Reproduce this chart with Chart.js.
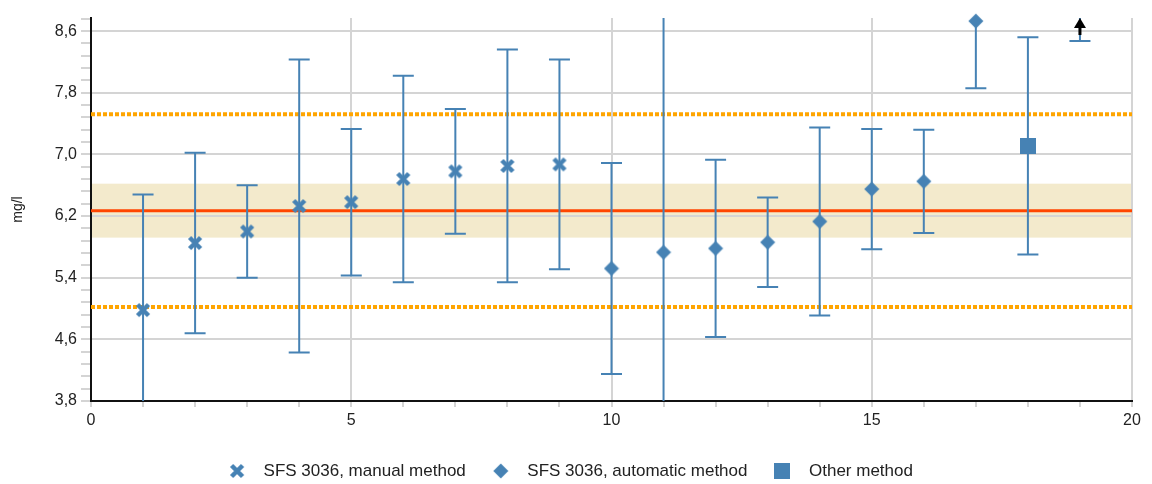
<!DOCTYPE html>
<html>
<head>
<meta charset="utf-8">
<script src="https://cdn.jsdelivr.net/npm/chart.js@4/dist/chart.umd.min.js"></script>
<style>
  html, body { margin: 0; padding: 0; background: #fff; }
</style>
</head>
<body>
<canvas id="chart" width="1152" height="484"></canvas>
<script>
// Lab results (x = lab number, y = result mg/l, err = +/- uncertainty)
const MANUAL_X = [1, 2, 3, 4, 5, 6, 7, 8, 9];
const MANUAL_Y = [4.98, 5.85, 6.00, 6.33, 6.38, 6.68, 6.78, 6.85, 6.87];
const MANUAL_ERR = [1.50, 1.17, 0.60, 1.90, 0.95, 1.34, 0.81, 1.51, 1.36];

const AUTO_X = [10, 11, 12, 13, 14, 15, 16, 17, 19];
const AUTO_Y = [5.52, 5.73, 5.78, 5.86, 6.13, 6.55, 6.65, 8.73, 9.60];
const AUTO_ERR = [1.37, 3.20, 1.15, 0.58, 1.22, 0.78, 0.67, 0.87, 1.13];

const OTHER_X = [18];
const OTHER_Y = [7.11];
const OTHER_ERR = [1.41];

const SERIES_LABELS = ['SFS 3036, manual method', 'SFS 3036, automatic method', 'Other method'];

// Reference value, its uncertainty band and the acceptance limits
const ASSIGNED = 6.27;
const BAND_LOW = 5.92, BAND_HIGH = 6.62;
const LIMIT_LOW = 5.02, LIMIT_HIGH = 7.52;

// Axes
const Y_MIN = 3.8, Y_MAX = 8.77;
const Y_MAJOR = [3.8, 4.6, 5.4, 6.2, 7.0, 7.8, 8.6];
const Y_MINOR_STEPS = 5;
const X_MIN = 0, X_MAX = 20;
const X_MAJOR = [0, 5, 10, 15, 20];

const BLUE = '#4682B4';
const GRID = '#D4D4D4';
const FONT = '"Liberation Sans", Arial, sans-serif';

// y ticks every 0.16, labels only on the majors
const yStep = (Y_MAJOR[1] - Y_MAJOR[0]) / Y_MINOR_STEPS;
const Y_TICKS = [];
for (let v = Y_MIN; v <= Y_MAX + 1e-9; v += yStep) Y_TICKS.push(Math.round(v * 100) / 100);
const isMajorY = v => Y_MAJOR.some(m => Math.abs(m - v) < 1e-6);

// Marker images
function makeMarker(shape) {
    const c = document.createElement('canvas');
    c.width = 16; c.height = 16;
    const g = c.getContext('2d');
    g.fillStyle = BLUE;
    g.strokeStyle = BLUE;
    if (shape === 'x') {
        g.lineWidth = 4.5;
        g.beginPath();
        g.moveTo(2.5, 2.5); g.lineTo(13.5, 13.5);
        g.moveTo(13.5, 2.5); g.lineTo(2.5, 13.5);
        g.stroke();
    } else if (shape === 'diamond') {
        g.beginPath();
        g.moveTo(8, 0.5); g.lineTo(15.5, 8); g.lineTo(8, 15.5); g.lineTo(0.5, 8);
        g.closePath();
        g.fill();
    } else {
        g.fillRect(0, 0, 16, 16);
    }
    return c;
}

function toPoints(xs, ys) {
    return xs.map((x, i) => ({ x: x, y: ys[i] }));
}

// Band, reference lines, error bars and off-scale arrows
const refPlugin = {
    id: 'refLines',
    beforeDraw(chart) {
        const { ctx, chartArea: a, scales: { y } } = chart;
        const top = y.getPixelForValue(BAND_HIGH);
        const bot = y.getPixelForValue(BAND_LOW);
        ctx.save();
        ctx.fillStyle = '#F3EACC';
        ctx.fillRect(a.left, top, a.right - a.left, bot - top);
        ctx.restore();
    },
    beforeDatasetsDraw(chart) {
        const { ctx, chartArea: a, scales: { x, y } } = chart;
        ctx.save();
        ctx.beginPath();
        ctx.rect(a.left, a.top, a.right - a.left, a.bottom - a.top);
        ctx.clip();

        // acceptance limits
        ctx.strokeStyle = '#FFA500';
        ctx.lineWidth = 4;
        ctx.setLineDash([4, 2]);
        [LIMIT_LOW, LIMIT_HIGH].forEach(v => {
            const py = y.getPixelForValue(v);
            ctx.beginPath();
            ctx.moveTo(a.left, py);
            ctx.lineTo(a.right, py);
            ctx.stroke();
        });
        ctx.setLineDash([]);

        // assigned value
        ctx.strokeStyle = '#FF4500';
        ctx.lineWidth = 3;
        const ry = y.getPixelForValue(ASSIGNED);
        ctx.beginPath();
        ctx.moveTo(a.left, ry);
        ctx.lineTo(a.right, ry);
        ctx.stroke();

        // error bars
        ctx.strokeStyle = BLUE;
        ctx.lineWidth = 2;
        chart.data.datasets.forEach(ds => {
            ds.data.forEach((p, i) => {
                const e = ds.errors[i];
                const px = x.getPixelForValue(p.x);
                const hi = y.getPixelForValue(p.y + e);
                const lo = y.getPixelForValue(p.y - e);
                ctx.beginPath();
                ctx.moveTo(px, hi); ctx.lineTo(px, lo);
                ctx.moveTo(px - 10.5, hi); ctx.lineTo(px + 10.5, hi);
                ctx.moveTo(px - 10.5, lo); ctx.lineTo(px + 10.5, lo);
                ctx.stroke();
            });
        });
        ctx.restore();
    },
    afterDatasetsDraw(chart) {
        const { ctx, chartArea: a, scales: { x } } = chart;
        ctx.save();
        ctx.fillStyle = '#000';
        ctx.strokeStyle = '#000';
        chart.data.datasets.forEach(ds => {
            ds.data.forEach(p => {
                if (p.y <= Y_MAX) return;
                const px = x.getPixelForValue(p.x);
                ctx.lineWidth = 3;
                ctx.beginPath();
                ctx.moveTo(px, a.top + 6);
                ctx.lineTo(px, a.top + 17);
                ctx.stroke();
                ctx.beginPath();
                ctx.moveTo(px, a.top);
                ctx.lineTo(px + 6, a.top + 10);
                ctx.lineTo(px - 6, a.top + 10);
                ctx.closePath();
                ctx.fill();
            });
        });
        ctx.restore();
    }
};

const ctx = document.getElementById('chart').getContext('2d');
new Chart(ctx, {
    type: 'scatter',
    data: {
        datasets: [
            { label: SERIES_LABELS[0], data: toPoints(MANUAL_X, MANUAL_Y), errors: MANUAL_ERR, pointStyle: makeMarker('x'), clip: false },
            { label: SERIES_LABELS[1], data: toPoints(AUTO_X, AUTO_Y), errors: AUTO_ERR, pointStyle: makeMarker('diamond'), clip: false },
            { label: SERIES_LABELS[2], data: toPoints(OTHER_X, OTHER_Y), errors: OTHER_ERR, pointStyle: makeMarker('square'), clip: false }
        ]
    },
    options: {
        responsive: false,
        animation: false,
        layout: { padding: { top: 18, right: 20, bottom: -5.5, left: 0 } },
        plugins: {
            tooltip: { enabled: false },
            legend: {
                position: 'bottom',
                labels: {
                    usePointStyle: true,
                    pointStyleWidth: 36,
                    padding: 17,
                    color: '#222',
                    font: { size: 17, family: FONT }
                }
            }
        },
        scales: {
            x: {
                type: 'linear',
                min: X_MIN,
                max: X_MAX,
                afterFit: scale => { scale.height = 44.5; },
                border: { color: '#111', width: 2 },
                grid: {
                    color: c => (c.tick && X_MAJOR.includes(c.tick.value)) ? GRID : 'rgba(0,0,0,0)',
                    lineWidth: 2,
                    tickLength: 6,
                    tickColor: GRID,
                    tickWidth: 2
                },
                ticks: {
                    stepSize: 1,
                    autoSkip: false,
                    maxRotation: 0,
                    padding: 4,
                    color: '#222',
                    font: { size: 16, family: FONT },
                    callback: v => X_MAJOR.includes(v) ? String(v) : ''
                }
            },
            y: {
                type: 'linear',
                min: Y_MIN,
                max: Y_MAX,
                afterBuildTicks: scale => { scale.ticks = Y_TICKS.map(v => ({ value: v })); },
                afterFit: scale => { scale.width = 91; },
                border: { color: '#111', width: 2 },
                grid: {
                    color: c => (c.tick && isMajorY(c.tick.value)) ? GRID : 'rgba(0,0,0,0)',
                    lineWidth: 2,
                    tickLength: 10,
                    tickColor: GRID,
                    tickWidth: 2
                },
                ticks: {
                    autoSkip: false,
                    padding: 4,
                    color: '#222',
                    font: { size: 16, family: FONT },
                    callback: v => isMajorY(v) ? v.toFixed(1).replace('.', ',') : ''
                },
                title: {
                    display: true,
                    text: 'mg/l',
                    color: '#222',
                    font: { size: 14, family: FONT },
                    padding: { top: 10, bottom: 0 }
                }
            }
        }
    },
    plugins: [refPlugin]
});
</script>
</body>
</html>
